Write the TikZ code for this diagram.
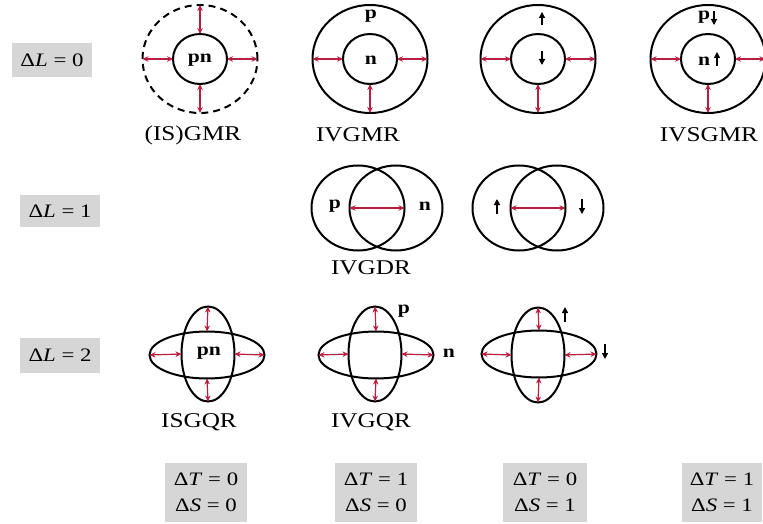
\documentclass[tikz,border=0pt]{standalone}
\usepackage{fontspec}
\setmainfont{Liberation Serif}[FakeStretch=1.2]
\usetikzlibrary{shapes.geometric,arrows.meta}
\definecolor{arrred}{RGB}{185,30,65}
\definecolor{boxgray}{RGB}{214,214,214}
\begin{document}
\begin{tikzpicture}[x=1pt,y=-1pt,
  ring/.style={ellipse, draw, line width=2pt, inner sep=0pt, outer sep=0pt},
  outerring/.style={ring, minimum width=115pt, minimum height=108pt},
  innerring/.style={ring, minimum width=54pt, minimum height=50pt},
  lobe/.style={ring, minimum width=93pt, minimum height=85pt},
  hell/.style={ring, minimum width=115pt, minimum height=47pt},
  vell/.style={ring, minimum width=53pt, minimum height=95pt},
  rarr/.style={draw=arrred, line width=1.2pt, {Stealth[length=6pt,width=5.5pt]}-{Stealth[length=6pt,width=5.5pt]}},
  spin/.style={line width=1.3pt, -{Triangle[length=6pt,width=6pt]}},
  lbl/.style={font=\fontsize{21}{24}\selectfont, inner sep=0pt},
  pnlbl/.style={font=\fontsize{18}{20}\selectfont\bfseries, inner sep=0pt},
  gbox/.style={fill=boxgray, font=\fontsize{19}{26}\selectfont, inner sep=0pt, align=center}
]
\useasboundingbox (0,0) rectangle (763,524);

% ---------- row labels ----------
\node[gbox, minimum width=80pt, minimum height=34pt] (dl0) at (52,60) {Δ\textit{L} = 0};
\node[gbox, minimum width=80pt, minimum height=32pt] (dl1) at (60,211) {Δ\textit{L} = 1};
\node[gbox, minimum width=80pt, minimum height=35pt] (dl2) at (60,355) {Δ\textit{L} = 2};

% ---------- row 1 : Delta L = 0 ----------
\node[outerring, dash pattern=on 7pt off 5pt] (o1) at (200,59) {};
\node[innerring] (i1) at (200,59) {};
\node[pnlbl] (t1) at (200,60) {pn};
\draw[rarr] (o1.north) -- (i1.north);
\draw[rarr] (o1.south) -- (i1.south);
\draw[rarr] (o1.west) -- (i1.west);
\draw[rarr] (o1.east) -- (i1.east);
\node[lbl] (c1) at (193,135) {(IS)GMR};

\node[outerring] (o2) at (370,59) {};
\node[innerring] (i2) at (370,59) {};
\node[pnlbl] (p2) at (371,16) {p};
\node[pnlbl] (n2) at (371,60) {n};
\draw[rarr] (o2.south) -- (i2.south);
\draw[rarr] (o2.west) -- (i2.west);
\draw[rarr] (o2.east) -- (i2.east);
\node[lbl] (c2) at (358,135) {IVGMR};

\node[outerring] (o3) at (538,59) {};
\node[innerring] (i3) at (538,59) {};
\coordinate (u3a) at (542,25); \coordinate (u3b) at (542,12);
\coordinate (d3a) at (542,51); \coordinate (d3b) at (542,65);
\draw[spin] (u3a) -- (u3b);
\draw[spin] (d3a) -- (d3b);
\draw[rarr] (o3.south) -- (i3.south);
\draw[rarr] (o3.west) -- (i3.west);
\draw[rarr] (o3.east) -- (i3.east);

\node[outerring] (o4) at (708,59) {};
\node[innerring] (i4) at (708,59) {};
\node[pnlbl] (p4) at (704,17) {p};
\node[pnlbl] (n4) at (704,61) {n};
\coordinate (d4a) at (714,11); \coordinate (d4b) at (714,25);
\coordinate (u4a) at (717,66); \coordinate (u4b) at (717,52);
\draw[spin] (d4a) -- (d4b);
\draw[spin] (u4a) -- (u4b);
\draw[rarr] (o4.south) -- (i4.south);
\draw[rarr] (o4.west) -- (i4.west);
\draw[rarr] (o4.east) -- (i4.east);
\node[lbl] (c4) at (709,135) {IVSGMR};

% ---------- row 2 : Delta L = 1 ----------
\node[lobe] (l5) at (358,208) {};
\node[lobe] (r5) at (396,208) {};
\node[pnlbl] (p5) at (335,206) {p};
\node[pnlbl] (n5) at (425,206) {n};
\draw[rarr] (r5.west) -- (l5.east);
\node[lbl] (c5) at (371,268) {IVGDR};

\node[lobe] (l6) at (519,208) {};
\node[lobe] (r6) at (557,208) {};
\coordinate (u6a) at (497,214); \coordinate (u6b) at (497,199);
\coordinate (d6a) at (582,199); \coordinate (d6b) at (582,214);
\draw[spin] (u6a) -- (u6b);
\draw[spin] (d6a) -- (d6b);
\draw[rarr] (r6.west) -- (l6.east);

% ---------- row 3 : Delta L = 2 ----------
\node[hell] (h7) at (207,355) {};
\node[vell] (v7) at (208,354) {};
\node[pnlbl] (t7) at (209,353) {pn};
\draw[rarr] (v7.north) -- (h7.north);
\draw[rarr] (h7.south) -- (v7.south);
\draw[rarr] (h7.west) -- (v7.west);
\draw[rarr] (v7.east) -- (h7.east);
\node[lbl] (c7) at (199,422) {ISGQR};

\node[hell] (h8) at (376,355) {};
\node[vell] (v8) at (375,354) {};
\node[pnlbl] (p8) at (404,311) {p};
\node[pnlbl] (n8) at (449,353) {n};
\draw[rarr] (v8.north) -- (h8.north);
\draw[rarr] (h8.south) -- (v8.south);
\draw[rarr] (h8.west) -- (v8.west);
\draw[rarr] (v8.east) -- (h8.east);
\node[lbl] (c8) at (371,422) {IVGQR};

\node[hell] (h9) at (539,354) {};
\node[vell] (v9) at (538,355) {};
\coordinate (u9a) at (565,322); \coordinate (u9b) at (565,307);
\coordinate (d9a) at (605,344); \coordinate (d9b) at (605,359);
\draw[spin] (u9a) -- (u9b);
\draw[spin] (d9a) -- (d9b);
\draw[rarr] (v9.north) -- (h9.north);
\draw[rarr] (h9.south) -- (v9.south);
\draw[rarr] (h9.west) -- (v9.west);
\draw[rarr] (v9.east) -- (h9.east);

% ---------- bottom boxes ----------
\node[gbox, minimum width=82pt, minimum height=59pt] (b1) at (206,492) {Δ\textit{T} = 0\\Δ\textit{S} = 0};
\node[gbox, minimum width=82pt, minimum height=59pt] (b2) at (376,492) {Δ\textit{T} = 1\\Δ\textit{S} = 0};
\node[gbox, minimum width=84pt, minimum height=59pt] (b3) at (545,492) {Δ\textit{T} = 0\\Δ\textit{S} = 1};
\node[gbox, minimum width=80pt, minimum height=59pt] (b4) at (722,492) {Δ\textit{T} = 1\\Δ\textit{S} = 1};
\end{tikzpicture}
\end{document}
